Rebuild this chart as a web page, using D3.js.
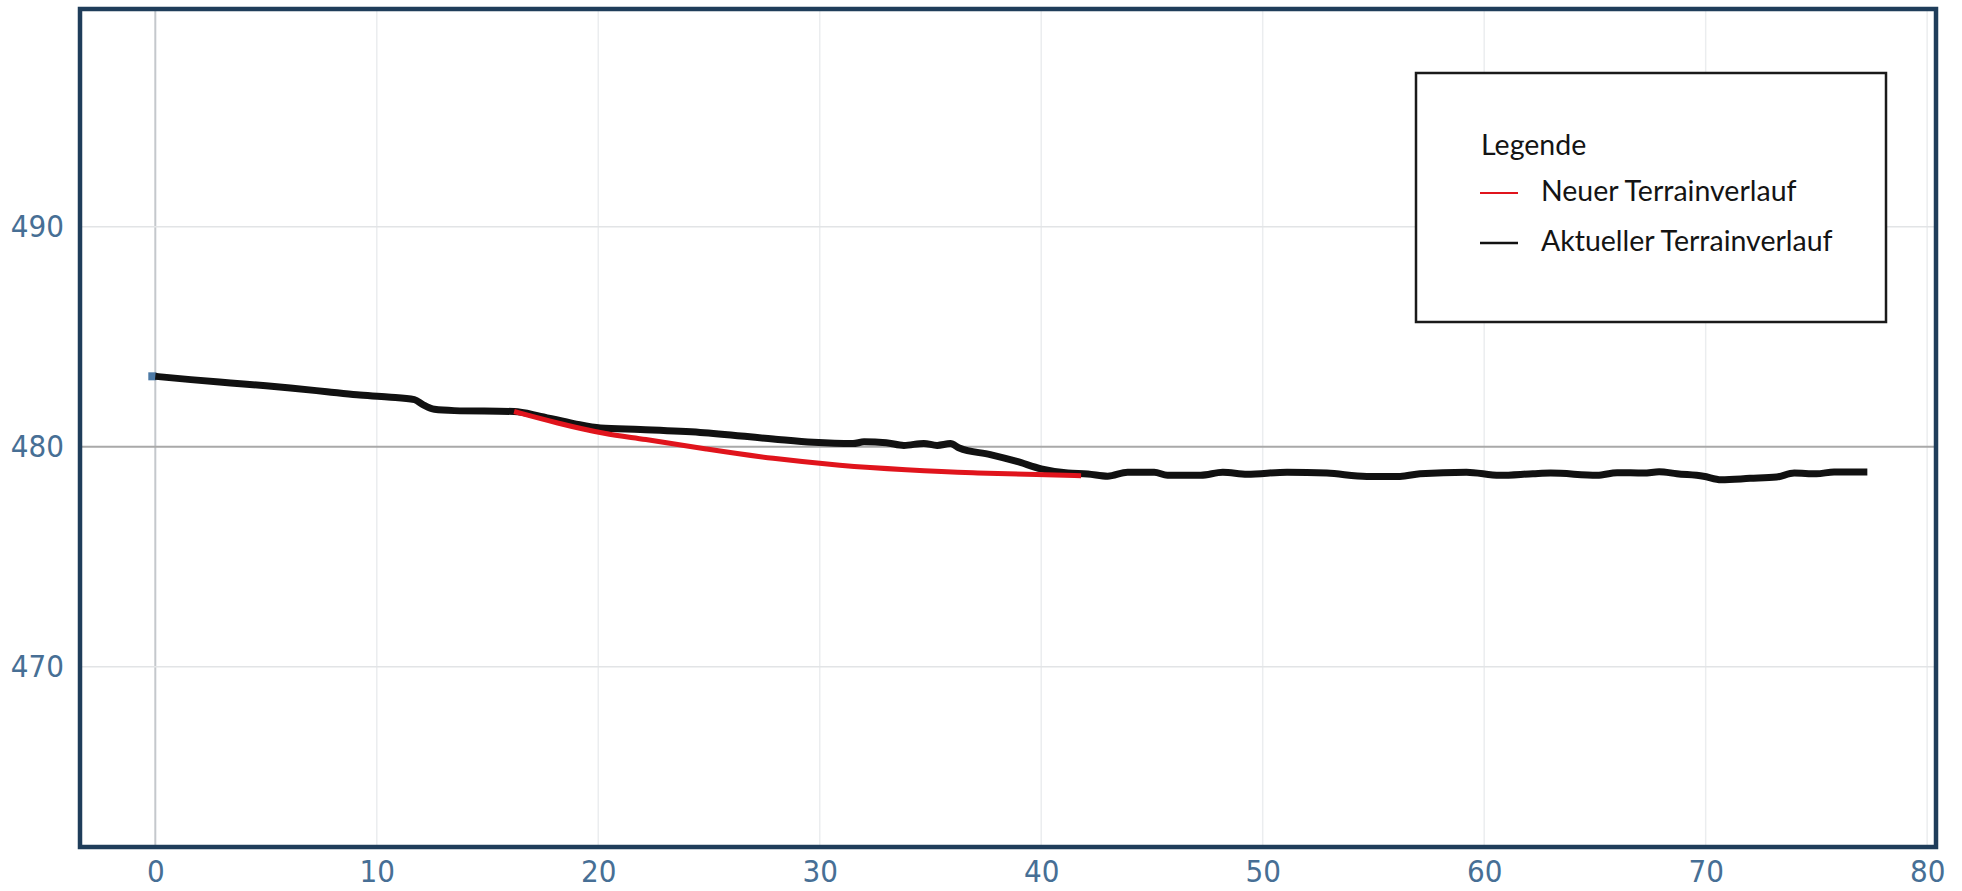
<!DOCTYPE html>
<html>
<head>
<meta charset="utf-8">
<script src="https://cdn.jsdelivr.net/npm/d3@7"></script>
<style>
  html, body { margin: 0; padding: 0; background: #ffffff; }
  svg { display: block; }
</style>
</head>
<body>
<svg id="chart" width="1962" height="891"></svg>
<script>
// ---- data ----
const xTicks = [0, 10, 20, 30, 40, 50, 60, 70, 80];
const yTicks = [470, 480, 490];

// Aktueller Terrainverlauf (current terrain)
const currentDist = [0, 1.6, 3.4, 5.0, 6.1, 7.75, 9.1, 10.5, 11.7, 12.1, 12.6, 13.5, 16.2, 17.4, 18.9, 20.1, 21.9,
  24.6, 27.9, 29.7, 31.5, 32.0, 33.0, 33.8, 34.7, 35.3, 35.9, 36.3, 37.7, 38.9, 40.0, 41.2, 42.1, 43.0, 43.9,
  45.1, 45.7, 47.2, 48.2, 49.3, 51.1, 52.9, 54.7, 56.2, 57.1, 59.2, 60.7, 62.2, 63.0, 65.1, 66.0, 67.2, 67.9,
  68.7, 69.9, 70.7, 72.0, 73.2, 74.0, 75.0, 75.8, 77.3];
const currentElev = [483.2, 483.05, 482.9, 482.77, 482.67, 482.5, 482.36, 482.26, 482.14, 481.9, 481.7, 481.64, 481.6, 481.38, 481.05, 480.85, 480.78,
  480.65, 480.35, 480.2, 480.14, 480.22, 480.18, 480.06, 480.15, 480.06, 480.14, 479.94, 479.64, 479.33, 478.99, 478.8, 478.76, 478.66, 478.84,
  478.84, 478.7, 478.7, 478.84, 478.75, 478.84, 478.8, 478.65, 478.65, 478.77, 478.84, 478.7, 478.77, 478.8, 478.7, 478.82, 478.8, 478.86,
  478.77, 478.66, 478.5, 478.56, 478.62, 478.8, 478.77, 478.85, 478.85];

// Neuer Terrainverlauf (new terrain)
const newDist = [16.2, 18.1, 20.4, 21.9, 24.9, 27.9, 30.9, 33.9, 36.9, 40.0, 41.8];
const newElev = [481.6, 481.08, 480.55, 480.38, 479.88, 479.45, 479.14, 478.95, 478.8, 478.73, 478.68];

const legendTitle = "Legende";
const seriesNames = ["Neuer Terrainverlauf", "Aktueller Terrainverlauf"];
const seriesColors = ["#e0141c", "#111111"];

// ---- layout ----
const svg = d3.select("#chart");
const pLeft = 80, pRight = 1936, pTop = 9, pBottom = 847;

const x = d3.scaleLinear().domain([-3.4, 80.4]).range([pLeft, pRight]);
const y = d3.scaleLinear().domain([461.8, 499.9]).range([pBottom, pTop]);

// gridlines
const grid = svg.append("g");
grid.selectAll("line.vx").data(xTicks).join("line")
  .attr("x1", d => x(d)).attr("x2", d => x(d))
  .attr("y1", pTop).attr("y2", pBottom)
  .attr("stroke", d => d === 0 ? "#c4c8cc" : "#ebedef")
  .attr("stroke-width", d => d === 0 ? 2 : 1.5);
grid.selectAll("line.hy").data(yTicks).join("line")
  .attr("x1", pLeft).attr("x2", pRight)
  .attr("y1", d => y(d)).attr("y2", d => y(d))
  .attr("stroke", d => d === 480 ? "#a9a9a9" : "#e2e4e6")
  .attr("stroke-width", d => d === 480 ? 2 : 1.5);

// axes
const tickFont = "'DejaVu Sans Condensed', 'DejaVu Sans', sans-serif";
const tickColor = "#476f95";

const xAxis = svg.append("g").attr("transform", `translate(0,${pBottom})`)
  .call(d3.axisBottom(x).tickValues(xTicks).tickSize(0).tickPadding(13).tickFormat(d3.format("d")));
xAxis.select(".domain").remove();
xAxis.selectAll("text")
  .attr("font-family", tickFont).attr("font-size", 31).attr("fill", tickColor);

const yAxis = svg.append("g").attr("transform", `translate(${pLeft},0)`)
  .call(d3.axisLeft(y).tickValues(yTicks).tickSize(0).tickPadding(16).tickFormat(d3.format("d")));
yAxis.select(".domain").remove();
yAxis.selectAll("text")
  .attr("font-family", tickFont).attr("font-size", 31).attr("fill", tickColor);

// start marker
svg.append("rect")
  .attr("x", x(currentDist[0]) - 7).attr("y", y(currentElev[0]) - 4)
  .attr("width", 8).attr("height", 8).attr("fill", "#4d7aa6");

// lines
const line = d3.line().x(d => x(d[0])).y(d => y(d[1])).curve(d3.curveMonotoneX);
const curData = currentDist.map((d, i) => [d, currentElev[i]]);
const newData = newDist.map((d, i) => [d, newElev[i]]);

svg.append("path").datum(curData)
  .attr("d", line).attr("fill", "none")
  .attr("stroke", seriesColors[1]).attr("stroke-width", 7)
  .attr("stroke-linejoin", "round").attr("stroke-linecap", "butt");

svg.append("path").datum(newData)
  .attr("d", d3.line().x(d => x(d[0])).y(d => y(d[1])).curve(d3.curveBasis))
  .attr("fill", "none")
  .attr("stroke", seriesColors[0]).attr("stroke-width", 5)
  .attr("stroke-linejoin", "round");

// frame
svg.append("rect")
  .attr("x", pLeft).attr("y", pTop)
  .attr("width", pRight - pLeft).attr("height", pBottom - pTop)
  .attr("fill", "none").attr("stroke", "#1f3d5a").attr("stroke-width", 4.5);

// legend
const lg = svg.append("g");
lg.append("rect")
  .attr("x", 1416).attr("y", 73).attr("width", 470).attr("height", 249)
  .attr("fill", "#ffffff").attr("stroke", "#1a1a1a").attr("stroke-width", 2.5);
const legendFont = "Lato, 'Open Sans', sans-serif";
lg.append("text").attr("x", 1481).attr("y", 155)
  .attr("font-family", legendFont).attr("font-size", 28.5).attr("fill", "#141414")
  .text(legendTitle);
const rows = lg.selectAll("g.row").data(seriesNames).join("g")
  .attr("transform", (d, i) => `translate(0,${i * 50})`);
rows.append("line")
  .attr("x1", 1480).attr("x2", 1518).attr("y1", 193).attr("y2", 193)
  .attr("stroke", (d, i) => seriesColors[i]).attr("stroke-width", (d, i) => i === 0 ? 2 : 2.5);
rows.append("text")
  .attr("x", 1541).attr("y", 201)
  .attr("font-family", legendFont).attr("font-size", 28.5).attr("fill", "#141414")
  .text(d => d);
</script>
</body>
</html>
